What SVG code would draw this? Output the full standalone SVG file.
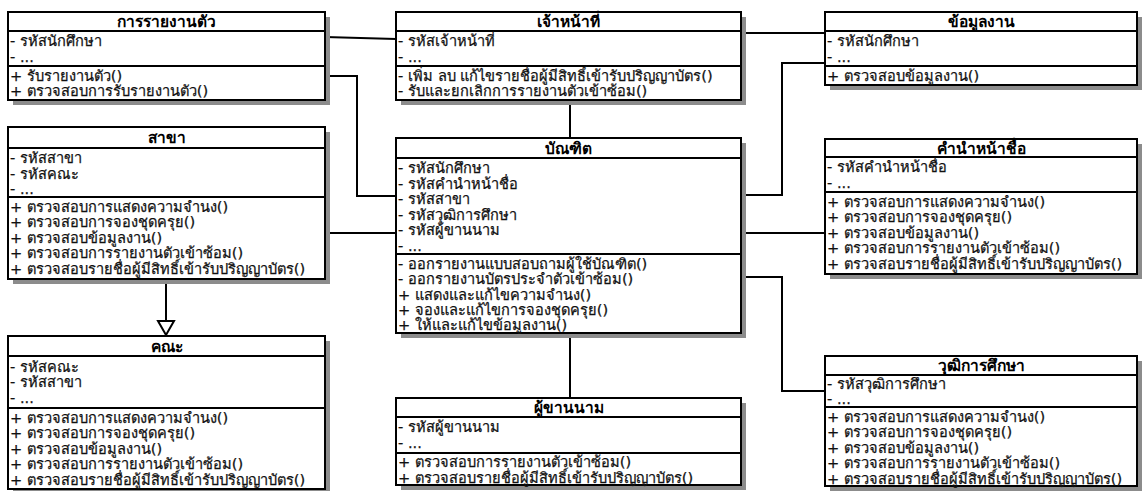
<svg xmlns="http://www.w3.org/2000/svg" width="1145" height="491" viewBox="0 0 1145 491">
<defs>
<style>
.shadow{fill:#8c8c8c}
.box{fill:#fff;stroke:#000;stroke-width:2}
.sep{stroke:#000;stroke-width:2}
.title{font-family:"DejaVu Sans","Noto Sans",sans-serif;font-size:15.5px;font-weight:bold;text-anchor:middle;fill:#000}
.m{font-family:"DejaVu Sans","Noto Sans",sans-serif;font-size:14.6px;fill:#111;stroke:#111;stroke-width:0.25}
.conn{fill:none;stroke:#000;stroke-width:2}
</style>
</defs>
<rect width="1145" height="491" fill="#fff"/>
<g id="connectors">
<polyline class="conn" points="325,37 396,39"/>
<polyline class="conn" points="741,33 825,33"/>
<polyline class="conn" points="325,76 357,76 357,196 396,196"/>
<polyline class="conn" points="325,233 396,233"/>
<polyline class="conn" points="570,100 570,138"/>
<polyline class="conn" points="825,63 782,63 782,195 741,195"/>
<polyline class="conn" points="825,233 741,233"/>
<polyline class="conn" points="741,277 782,277 782,391 825,391"/>
<polyline class="conn" points="570,333 570,398"/>
<polyline class="conn" points="166,279 166,321"/>
<polygon points="158,321 174,321 166,335" fill="#fff" stroke="#000" stroke-width="2"/>
</g>
<g id="report">
<rect class="shadow" x="13" y="17" width="317" height="88"/>
<rect class="box" x="8" y="12" width="317" height="88"/>
<line class="sep" x1="8" y1="31" x2="325" y2="31"/>
<line class="sep" x1="8" y1="66" x2="325" y2="66"/>
<text class="title" x="166.5" y="27">การรายงานตัว</text>
<text class="m" x="10" y="46">- รหัสนักศึกษา</text>
<text class="m" x="10" y="61.5">- ...</text>
<text class="m" x="10" y="80.5">+ รับรายงานตัว()</text>
<text class="m" x="10" y="96">+ ตรวจสอบการรับรายงานตัว()</text>
</g>
<g id="officer">
<rect class="shadow" x="401" y="17" width="345" height="88"/>
<rect class="box" x="396" y="12" width="345" height="88"/>
<line class="sep" x1="396" y1="31" x2="741" y2="31"/>
<line class="sep" x1="396" y1="66" x2="741" y2="66"/>
<text class="title" x="568.5" y="27">เจ้าหน้าที่</text>
<text class="m" x="398" y="46">- รหัสเจ้าหน้าที่</text>
<text class="m" x="398" y="61.5">- ...</text>
<text class="m" x="398" y="80.5">- เพิ่ม ลบ แก้ไขรายชื่อผู้มีสิทธิ์เข้ารับปริญญาบัตร()</text>
<text class="m" x="398" y="96">- รับและยกเลิกการรายงานตัวเข้าซ้อม()</text>
</g>
<g id="workdata">
<rect class="shadow" x="830" y="17" width="312" height="73"/>
<rect class="box" x="825" y="12" width="312" height="73"/>
<line class="sep" x1="825" y1="31" x2="1137" y2="31"/>
<line class="sep" x1="825" y1="66" x2="1137" y2="66"/>
<text class="title" x="981" y="27">ข้อมูลงาน</text>
<text class="m" x="827" y="46">- รหัสนักศึกษา</text>
<text class="m" x="827" y="61.5">- ...</text>
<text class="m" x="827" y="80.5">+ ตรวจสอบข้อมูลงาน()</text>
</g>
<g id="branch">
<rect class="shadow" x="13" y="132" width="317" height="152"/>
<rect class="box" x="8" y="127" width="317" height="152"/>
<line class="sep" x1="8" y1="148" x2="325" y2="148"/>
<line class="sep" x1="8" y1="197" x2="325" y2="197"/>
<text class="title" x="166.5" y="143">สาขา</text>
<text class="m" x="10" y="163">- รหัสสาขา</text>
<text class="m" x="10" y="178.5">- รหัสคณะ</text>
<text class="m" x="10" y="194">- ...</text>
<text class="m" x="10" y="211.5">+ ตรวจสอบการแสดงความจำนง()</text>
<text class="m" x="10" y="227">+ ตรวจสอบการจองชุดครุย()</text>
<text class="m" x="10" y="242.5">+ ตรวจสอบข้อมูลงาน()</text>
<text class="m" x="10" y="258">+ ตรวจสอบการรายงานตัวเข้าซ้อม()</text>
<text class="m" x="10" y="273.5">+ ตรวจสอบรายชื่อผู้มีสิทธิ์เข้ารับปริญญาบัตร()</text>
</g>
<g id="graduate">
<rect class="shadow" x="401" y="143" width="345" height="195"/>
<rect class="box" x="396" y="138" width="345" height="195"/>
<line class="sep" x1="396" y1="158" x2="741" y2="158"/>
<line class="sep" x1="396" y1="254" x2="741" y2="254"/>
<text class="title" x="568.5" y="153.5">บัณฑิต</text>
<text class="m" x="398" y="173">- รหัสนักศึกษา</text>
<text class="m" x="398" y="188.5">- รหัสคำนำหน้าชื่อ</text>
<text class="m" x="398" y="204">- รหัสสาขา</text>
<text class="m" x="398" y="219.5">- รหัสวุฒิการศึกษา</text>
<text class="m" x="398" y="235">- รหัสผู้ขานนาม</text>
<text class="m" x="398" y="250.5">- ...</text>
<text class="m" x="398" y="268.5">- ออกรายงานแบบสอบถามผู้ใช้บัณฑิต()</text>
<text class="m" x="398" y="284">- ออกรายงานบัตรประจำตัวเข้าซ้อม()</text>
<text class="m" x="398" y="299.5">+ แสดงและแก้ไขความจำนง()</text>
<text class="m" x="398" y="315">+ จองและแก้ไขการจองชุดครุย()</text>
<text class="m" x="398" y="330">+ ให้และแก้ไขข้อมูลงาน()</text>
</g>
<g id="prefix">
<rect class="shadow" x="830" y="144" width="312" height="135"/>
<rect class="box" x="825" y="139" width="312" height="135"/>
<line class="sep" x1="825" y1="157" x2="1137" y2="157"/>
<line class="sep" x1="825" y1="192" x2="1137" y2="192"/>
<text class="title" x="981" y="153.5">คำนำหน้าชื่อ</text>
<text class="m" x="827" y="172">- รหัสคำนำหน้าชื่อ</text>
<text class="m" x="827" y="187.5">- ...</text>
<text class="m" x="827" y="206.5">+ ตรวจสอบการแสดงความจำนง()</text>
<text class="m" x="827" y="222">+ ตรวจสอบการจองชุดครุย()</text>
<text class="m" x="827" y="237.5">+ ตรวจสอบข้อมูลงาน()</text>
<text class="m" x="827" y="253">+ ตรวจสอบการรายงานตัวเข้าซ้อม()</text>
<text class="m" x="827" y="268.5">+ ตรวจสอบรายชื่อผู้มีสิทธิ์เข้ารับปริญญาบัตร()</text>
</g>
<g id="faculty">
<rect class="shadow" x="13" y="341" width="317" height="150"/>
<rect class="box" x="8" y="336" width="317" height="153"/>
<line class="sep" x1="8" y1="356" x2="325" y2="356"/>
<line class="sep" x1="8" y1="408" x2="325" y2="408"/>
<text class="title" x="166.5" y="351.5">คณะ</text>
<text class="m" x="10" y="371.5">- รหัสคณะ</text>
<text class="m" x="10" y="387">- รหัสสาขา</text>
<text class="m" x="10" y="402.5">- ...</text>
<text class="m" x="10" y="422.5">+ ตรวจสอบการแสดงความจำนง()</text>
<text class="m" x="10" y="438">+ ตรวจสอบการจองชุดครุย()</text>
<text class="m" x="10" y="453.5">+ ตรวจสอบข้อมูลงาน()</text>
<text class="m" x="10" y="469">+ ตรวจสอบการรายงานตัวเข้าซ้อม()</text>
<text class="m" x="10" y="484.5">+ ตรวจสอบรายชื่อผู้มีสิทธิ์เข้ารับปริญญาบัตร()</text>
</g>
<g id="caller">
<rect class="shadow" x="401" y="403" width="345" height="87"/>
<rect class="box" x="396" y="398" width="345" height="87"/>
<line class="sep" x1="396" y1="417" x2="741" y2="417"/>
<line class="sep" x1="396" y1="453" x2="741" y2="453"/>
<text class="title" x="568.5" y="413">ผู้ขานนาม</text>
<text class="m" x="398" y="432">- รหัสผู้ขานนาม</text>
<text class="m" x="398" y="447.5">- ...</text>
<text class="m" x="398" y="467">+ ตรวจสอบการรายงานตัวเข้าซ้อม()</text>
<text class="m" x="398" y="482.5">+ ตรวจสอบรายชื่อผู้มีสิทธิ์เข้ารับปริญญาบัตร()</text>
</g>
<g id="qualification">
<rect class="shadow" x="830" y="361" width="312" height="130"/>
<rect class="box" x="825" y="356" width="312" height="130"/>
<line class="sep" x1="825" y1="375" x2="1137" y2="375"/>
<line class="sep" x1="825" y1="407" x2="1137" y2="407"/>
<text class="title" x="981" y="371">วุฒิการศึกษา</text>
<text class="m" x="827" y="388.5">- รหัสวุฒิการศึกษา</text>
<text class="m" x="827" y="404">- ...</text>
<text class="m" x="827" y="421.5">+ ตรวจสอบการแสดงความจำนง()</text>
<text class="m" x="827" y="437">+ ตรวจสอบการจองชุดครุย()</text>
<text class="m" x="827" y="452.5">+ ตรวจสอบข้อมูลงาน()</text>
<text class="m" x="827" y="468">+ ตรวจสอบการรายงานตัวเข้าซ้อม()</text>
<text class="m" x="827" y="483.5">+ ตรวจสอบรายชื่อผู้มีสิทธิ์เข้ารับปริญญาบัตร()</text>
</g>
</svg>
